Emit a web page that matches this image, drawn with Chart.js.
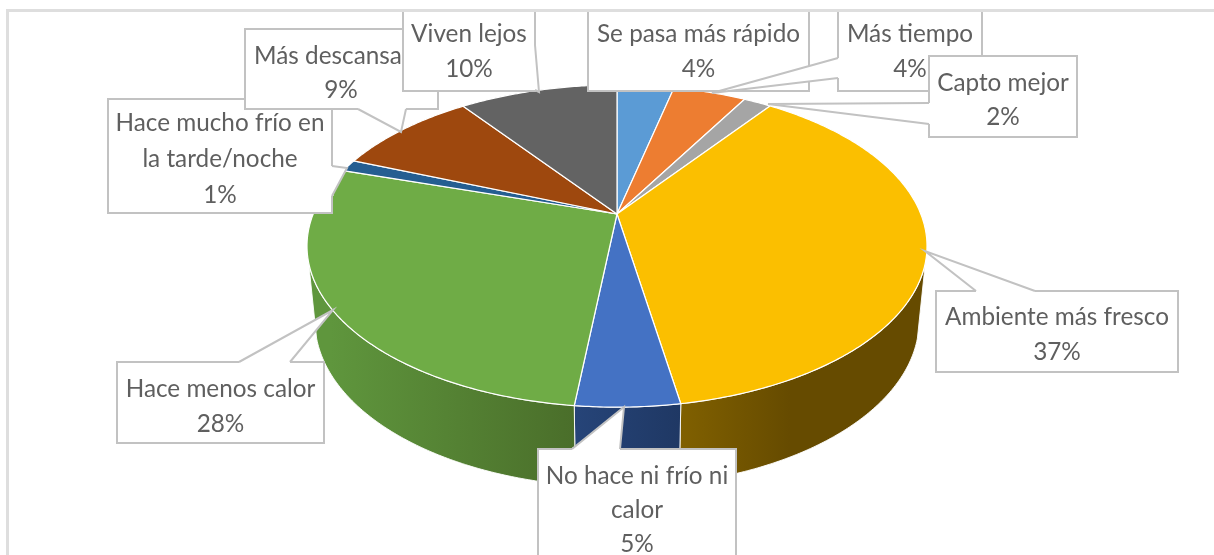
<!DOCTYPE html>
<html><head><meta charset="utf-8">
<style>html,body{margin:0;padding:0;background:#fff}canvas{display:block}</style>
<script src="https://cdn.jsdelivr.net/npm/chart.js@4/dist/chart.umd.min.js"></script>
</head><body><canvas id="c" width="1214" height="555"></canvas>
<script>
const categories = ["Se pasa más rápido","Más tiempo","Capto mejor","Ambiente más fresco","No hace ni frío ni calor","Hace menos calor","Hace mucho frío en la tarde/noche","Más descansa","Viven lejos"];
const shownPercent = [4,4,2,37,5,28,1,9,10];
const sliceValues = [3.6,4.6,1.75,37.35,4.5,28.0,1.2,9.0,10.0];
const topColors = ["#5b9bd5","#ed7d31","#a5a5a5","#fbbf00","#4472c4","#6fac46","#255e91","#9e480e","#636363"];
const wallLight = ["#2e4e6b","#77401a","#535353","#806000","#264478","#5f963d","#133050","#4f2407","#323232"];
const wallDark  = ["#2e4e6b","#77401a","#535353","#664b00","#1f3864","#4a6e2a","#133050","#4f2407","#323232"];

// perspective projection of the pie disc (top face and bottom face)
const K = -0.199, CX = 617;
const TOP = {rx:303.8, ry:154.7, y0:214};
const BOT = {rx:296, ry:159.4, y0:288};
const proj = (f,a)=>{const x=Math.cos(a),y=Math.sin(a),w=1+K*y;return [CX+f.rx*x/w,f.y0+f.ry*y/w];};
const wallGrad = {3:[681,790],4:[576,681],5:[330,575]};

// callout geometry; index refers to categories
const callouts = [
 {i:6,box:[108,99,332,213],wedge:[[332,196],[347,168],[332,166]],text:[122,158,194],wrap:18},
 {i:7,box:[245,29,438,109],wedge:[[406,109],[401,132],[358,109]],text:[55,89],lineCx:[328,341]},
 {i:8,box:[403,8,535,91],wedge:[[535,90],[539,92],[535,45]],text:[33,68]},
 {i:0,box:[588,8,809,91],text:[33,68]},
 {i:1,box:[838,8,982,91],wedge:[[838,58],[712,93],[838,78]],text:[33,68]},
 {i:2,box:[929,56,1077,137],wedge:[[929,124],[768,104],[929,103]],text:[82,116]},
 {i:3,box:[936,291,1178,372],wedge:[[1035,291],[925,251],[976,291]],text:[316,351]},
 {i:4,box:[538,449,736,600],wedge:[[620,449],[624,407],[572,449]],text:[475,509,543],wrap:18},
 {i:5,box:[117,362,324,443],wedge:[[290,362],[333,310],[239,362]],text:[388,423]}
];
const FRAME_TOP = 12, FRAME_LEFT = 6;
const TEXT = "#5f5f5f", EDGE = "#c2c2c2", FONT = "24.3px Lato, Carlito, sans-serif";

function wrapText(s,n){
  if(!n) return [s];
  const out=[];let cur="";
  s.split(" ").forEach(w=>{const t=cur?cur+" "+w:w;if(t.length>n){out.push(cur);cur=w;}else cur=t;});
  out.push(cur);return out;
}
function tracePie(ctx,f,a0,a1){
  const n=Math.max(4,Math.ceil((a1-a0)/0.01));
  for(let j=0;j<=n;j++){const p=proj(f,a0+(a1-a0)*j/n);ctx.lineTo(p[0],p[1]);}
}
const pie3d = {
  id:'pie3d',
  beforeDatasetsDraw(chart){
    const ctx=chart.ctx, arcs=chart.getDatasetMeta(0).data;
    ctx.save();
    ctx.lineJoin='round';
    // side wall, between the two silhouette angles
    const lo=0.3, hi=Math.PI-0.3;
    arcs.forEach((el,i)=>{
      const s=Math.max(el.startAngle,lo),e=Math.min(el.endAngle,hi);
      if(e<=s) return;
      ctx.beginPath();
      const n=Math.ceil((e-s)/0.01);
      for(let j=0;j<=n;j++){const p=proj(TOP,s+(e-s)*j/n);j?ctx.lineTo(p[0],p[1]):ctx.moveTo(p[0],p[1]);}
      for(let j=n;j>=0;j--){const p=proj(BOT,s+(e-s)*j/n);ctx.lineTo(p[0],p[1]);}
      ctx.closePath();
      const r=wallGrad[i];
      let fill=wallDark[i];
      if(r){const g=ctx.createLinearGradient(r[0],0,r[1],0);
        g.addColorStop(0,wallLight[i]);g.addColorStop(1,wallDark[i]);
        fill=g;}
      ctx.fillStyle=fill;ctx.fill();
      ctx.strokeStyle='rgba(255,255,255,0.9)';ctx.lineWidth=1;ctx.stroke();
    });
    // top face
    arcs.forEach((el)=>{
      ctx.beginPath();
      ctx.moveTo(CX,TOP.y0);
      tracePie(ctx,TOP,el.startAngle,el.endAngle);
      ctx.closePath();
      ctx.fillStyle=el.options.backgroundColor;ctx.fill();
      ctx.strokeStyle='#fff';ctx.lineWidth=1.2;ctx.stroke();
    });
    ctx.restore();
    return false;
  },
  afterDraw(chart){
    const ctx=chart.ctx;
    ctx.save();
    ctx.beginPath();ctx.rect(0,FRAME_TOP,1214,555-FRAME_TOP);ctx.clip();
    callouts.forEach(c=>{
      const [x0,y0,x1,y1]=c.box, w=c.wedge;
      ctx.beginPath();ctx.rect(x0,y0,x1-x0,y1-y0);
      ctx.fillStyle='#fff';ctx.fill();
      ctx.strokeStyle=EDGE;ctx.lineWidth=2;ctx.stroke();
      if(w){
        ctx.beginPath();ctx.moveTo(w[0][0],w[0][1]);ctx.lineTo(w[1][0],w[1][1]);ctx.lineTo(w[2][0],w[2][1]);
        ctx.closePath();ctx.fillStyle='#fff';ctx.fill();
        ctx.strokeStyle='#fff';ctx.lineWidth=3;
        ctx.beginPath();ctx.moveTo(w[0][0],w[0][1]);ctx.lineTo(w[2][0],w[2][1]);ctx.stroke();
        ctx.beginPath();ctx.moveTo(w[0][0],w[0][1]);ctx.lineTo(w[1][0],w[1][1]);ctx.lineTo(w[2][0],w[2][1]);
        ctx.strokeStyle=EDGE;ctx.lineWidth=2;ctx.stroke();
      }
      const lines=wrapText(categories[c.i],c.wrap).concat(shownPercent[c.i]+"%");
      ctx.font=FONT;ctx.fillStyle=TEXT;ctx.textAlign='center';ctx.textBaseline='middle';
      lines.forEach((t,j)=>{
        const cx=c.lineCx?c.lineCx[j]:(x0+x1)/2;
        ctx.fillText(t,cx,c.text[j]+1);
      });
    });
    ctx.restore();
    // chart frame
    ctx.fillStyle='#dedede';
    ctx.fillRect(FRAME_LEFT,9,1214-FRAME_LEFT,3);
    ctx.fillRect(FRAME_LEFT,9,3,546);
  }
};
new Chart(document.getElementById('c'),{
  type:'pie',
  data:{labels:categories,datasets:[{data:sliceValues,backgroundColor:topColors,borderColor:'#fff',borderWidth:1}]},
  options:{responsive:false,animation:false,
    plugins:{legend:{display:false},tooltip:{enabled:false}}},
  plugins:[pie3d]
});
</script></body></html>
